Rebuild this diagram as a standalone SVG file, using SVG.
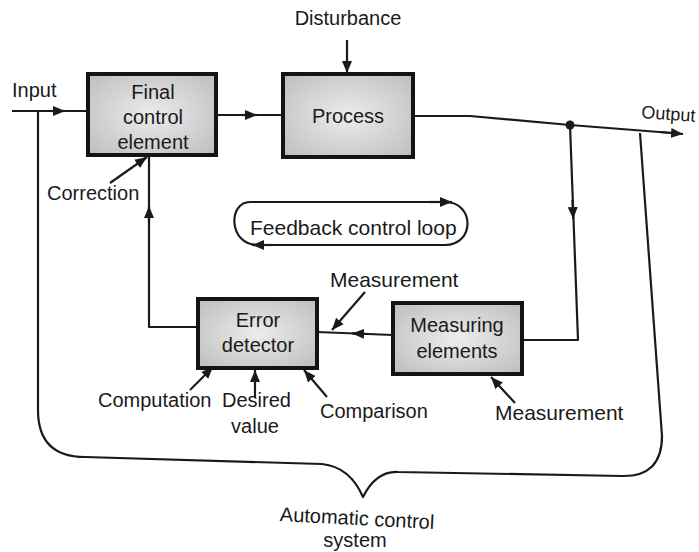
<svg xmlns="http://www.w3.org/2000/svg" width="699" height="552" viewBox="0 0 699 552">
<style>
  text { font-family: "Liberation Sans", Arial, sans-serif; font-size: 20px; fill: #1a1a1a; }
  .mid { text-anchor: middle; }
  .box { fill: url(#boxfill); stroke: #141414; stroke-width: 4; }
  .ln { fill: none; stroke: #1a1a1a; stroke-width: 2.2; stroke-linejoin: round; }
  .ar { fill: none; stroke: #1a1a1a; stroke-width: 2.2; marker-end: url(#ah); }
</style>
<defs>
  <radialGradient id="boxfill" cx="50%" cy="50%" r="70%">
    <stop offset="0" stop-color="#ececec"/>
    <stop offset="1" stop-color="#bdbdbd"/>
  </radialGradient>
  <marker id="ah" markerUnits="userSpaceOnUse" markerWidth="14" markerHeight="12" refX="12" refY="6" orient="auto">
    <path d="M0,1 L12,6 L0,11 Z" fill="#1a1a1a"/>
  </marker>
</defs>
<rect width="699" height="552" fill="#ffffff"/>

<g id="connectors">
  <!-- input -->
  <path class="ln" d="M12 111 L88 111"/>
  <path class="ar" d="M50 111 L65 111"/>
  <!-- final -> process -->
  <path class="ln" d="M216 115 L283 115"/>
  <path class="ar" d="M242 115 L257 115"/>
  <!-- disturbance -->
  <path class="ar" d="M347 40 L347 73"/>
  <!-- output -->
  <path class="ln" d="M413 116 L470 116 L570 125 L672 133"/>
  <path class="ar" d="M660 132 L683 134"/>
  <circle cx="570" cy="125" r="4.5" fill="#1a1a1a"/>
  <!-- output down to measuring -->
  <path class="ln" d="M570 125 L578 340 L522 340"/>
  <path class="ar" d="M572.5 200 L573.2 219"/>
  <!-- measuring -> error -->
  <path class="ln" d="M393 335 L317 332"/>
  <path class="ar" d="M368 334 L352 333.4"/>
  <!-- error -> final (feedback) -->
  <path class="ln" d="M198 327 L149 327 L149 156"/>
  <path class="ar" d="M149 222 L149 206"/>
  <!-- label arrows -->
  <path class="ar" d="M110 183 L147 157"/>
  <path class="ar" d="M365 292 L332 330"/>
  <path class="ar" d="M190 390 L213 367"/>
  <path class="ar" d="M255 397 L255 370"/>
  <path class="ar" d="M327 397 L304 370"/>
  <path class="ar" d="M515 403 L491 377"/>
  <!-- feedback control loop -->
  <path class="ln" d="M445 202 C475 202 475 245 445 245 M258 245 C228 245 228 202 250 202 L445 202 M445 245 L258 245"/>
  <path class="ar" d="M430 202 L452 202"/>
  <path class="ar" d="M272 245 L252 245"/>
  <!-- automatic control system brace -->
  <path class="ln" d="M38 111 L38 410 Q38 457 85 457 L322 464 Q350 467 363 497 Q376 471 398 472 L622 476 Q662 477 662 436 L640 133"/>
</g>

<g id="final-control-element">
  <rect class="box" x="88" y="74" width="128" height="81"/>
  <text class="mid" x="153" y="99">Final</text>
  <text class="mid" x="153" y="124">control</text>
  <text class="mid" x="153" y="149">element</text>
</g>
<g id="process">
  <rect class="box" x="283" y="74" width="130" height="83"/>
  <text class="mid" x="348" y="123">Process</text>
</g>
<g id="error-detector">
  <rect class="box" x="198" y="299" width="119" height="69"/>
  <text class="mid" x="258" y="327">Error</text>
  <text class="mid" x="258" y="352">detector</text>
</g>
<g id="measuring-elements">
  <rect class="box" x="393" y="303" width="129" height="71"/>
  <text class="mid" x="457" y="332">Measuring</text>
  <text class="mid" x="457" y="358">elements</text>
</g>

<g id="labels">
  <text x="12" y="97">Input</text>
  <text x="641" y="118" transform="rotate(4 641 118)" style="font-size:18px">Output</text>
  <text class="mid" x="348" y="25">Disturbance</text>
  <text x="47" y="200">Correction</text>
  <text x="250" y="235" style="font-size:21px">Feedback control loop</text>
  <text x="330" y="287" style="font-size:21px">Measurement</text>
  <text x="98" y="407">Computation</text>
  <text x="222" y="407">Desired</text>
  <text class="mid" x="255" y="433">value</text>
  <text x="320" y="418">Comparison</text>
  <text x="495" y="420" style="font-size:21px">Measurement</text>
  <text class="mid" x="357" y="525" transform="rotate(3 357 520)">Automatic control</text>
  <text class="mid" x="355" y="547">system</text>
</g>
</svg>
